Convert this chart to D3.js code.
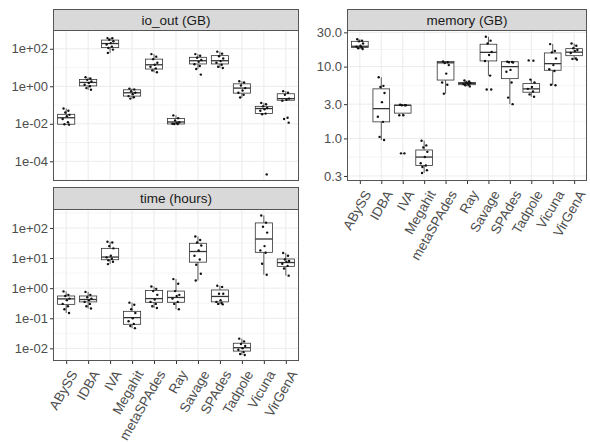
<!DOCTYPE html>
<html>
<head>
<meta charset="utf-8">
<script src="https://cdn.jsdelivr.net/npm/d3@7"></script>
<style>
  body { margin: 0; background: #fff; }
  svg { font-family: "Liberation Sans", Arial, sans-serif; }
  .grid-major { stroke: #ebebeb; stroke-width: 1; }
  .grid-minor { stroke: #f0f0f0; stroke-width: 0.7; }
  .axis text { fill: #4d4d4d; font-size: 13px; }
  .xaxis text { font-size: 13.5px; }
  .axis line { stroke: #333; }
  .axis path { display: none; }
  .strip { fill: #d9d9d9; stroke: #555; stroke-width: 1; }
  .stripText { fill: #1a1a1a; font-size: 13.5px; }
  .frame { fill: none; stroke: #555; stroke-width: 1; }
  .box { fill: #fff; stroke: #333; stroke-width: 0.8; }
  .dot { fill: #111; }
</style>
</head>
<body>
<script>
(function(){

    //assemblers (x categories)
    var algos = ["ABySS", "IDBA", "IVA", "Megahit", "metaSPAdes", "Ray", "Savage", "SPAdes", "Tadpole", "Vicuna", "VirGenA"];

    //box stats per assembler: [lower whisker, q1, median, q3, upper whisker]
    var ioStats = [
        [0.009, 0.0095, 0.021, 0.032, 0.065],
        [0.65, 1.05, 1.6, 2.3, 3.0],
        [60, 115, 190, 290, 370],
        [0.22, 0.3, 0.45, 0.65, 0.75],
        [5.6, 8.3, 14, 28, 52],
        [0.0098, 0.0098, 0.0125, 0.019, 0.028],
        [8.3, 15.5, 23, 35, 52],
        [9.5, 15.5, 23, 43, 70],
        [0.25, 0.43, 0.8, 1.35, 1.85],
        [0.032, 0.035, 0.065, 0.085, 0.13],
        [0.17, 0.18, 0.22, 0.4, 0.55]
    ];
    var ioPoints = [
        [0.065, 0.05, 0.04, 0.03, 0.025, 0.018, 0.012, 0.0095, 0.009],
        [3.0, 2.6, 2.2, 1.8, 1.5, 1.2, 1.0, 0.8, 0.65],
        [370, 360, 300, 250, 200, 170, 130, 110, 90, 60],
        [0.75, 0.68, 0.55, 0.45, 0.38, 0.3, 0.26, 0.22],
        [52, 38, 28, 18, 14, 11, 9, 7, 5.6],
        [0.028, 0.02, 0.015, 0.012, 0.011, 0.01, 0.0098, 0.0098],
        [52, 42, 33, 25, 20, 15, 12, 8.3, 4.2],
        [70, 55, 40, 30, 22, 18, 14, 11, 9.5],
        [1.85, 1.6, 1.1, 0.8, 0.6, 0.45, 0.35, 0.25],
        [0.13, 0.11, 0.085, 0.07, 0.06, 0.05, 0.035, 0.032, 0.00002],
        [0.55, 0.45, 0.35, 0.22, 0.19, 0.17, 0.021, 0.018, 0.0115]
    ];

    var timeStats = [
        [0.15, 0.29, 0.44, 0.55, 0.78],
        [0.21, 0.35, 0.42, 0.55, 0.75],
        [6.3, 8.8, 10.8, 21, 35],
        [0.047, 0.063, 0.105, 0.17, 0.33],
        [0.22, 0.34, 0.45, 0.83, 1.13],
        [0.2, 0.34, 0.49, 0.8, 2.0],
        [1.8, 7.3, 16.5, 31, 52],
        [0.29, 0.35, 0.53, 0.87, 1.2],
        [0.006, 0.0081, 0.0105, 0.0148, 0.021],
        [2.8, 15.5, 43, 147, 260],
        [2.6, 5.3, 7.1, 9.3, 14.7]
    ];
    var timePoints = [
        [0.78, 0.6, 0.55, 0.45, 0.4, 0.3, 0.25, 0.2, 0.15],
        [0.75, 0.6, 0.5, 0.45, 0.4, 0.35, 0.3, 0.25, 0.21],
        [35, 33, 25, 21, 12, 10.5, 9.5, 8.5, 7.5, 6.3],
        [0.33, 0.28, 0.2, 0.15, 0.1, 0.08, 0.065, 0.055, 0.047],
        [1.13, 0.95, 0.8, 0.6, 0.42, 0.35, 0.3, 0.25, 0.22],
        [2.0, 1.4, 0.8, 0.6, 0.55, 0.45, 0.35, 0.3, 0.2],
        [52, 40, 33, 26, 18, 12, 9, 6, 3, 1.8],
        [1.2, 1.1, 0.65, 0.65, 0.4, 0.35, 0.32, 0.3, 0.29],
        [0.021, 0.017, 0.014, 0.012, 0.01, 0.009, 0.0075, 0.0065, 0.006],
        [260, 150, 110, 70, 25, 18, 15, 6.5, 2.8],
        [14.7, 12, 9, 8, 7.5, 6.5, 5.5, 4.5, 2.6]
    ];

    var memStats = [
        [17.6, 18.5, 19.2, 22.5, 24],
        [0.95, 1.7, 2.6, 4.9, 7.1],
        [2.1, 2.25, 2.9, 2.9, 2.95],
        [0.33, 0.42, 0.55, 0.69, 0.93],
        [4.2, 6.5, 11.3, 11.8, 11.8],
        [5.3, 5.6, 5.85, 6.0, 6.4],
        [7.5, 12, 15.8, 20.5, 26],
        [3.0, 6.8, 10, 11.7, 11.7],
        [3.8, 4.4, 4.9, 5.8, 6.6],
        [5.5, 8.9, 11, 15.5, 20.6],
        [12.5, 14.2, 15.9, 17.8, 21]
    ];
    var memPoints = [
        [24, 23, 22.5, 21, 19.5, 19, 18.5, 18, 17.6],
        [7.1, 5.4, 5.2, 4.3, 3.2, 2.0, 1.7, 1.05, 0.95],
        [2.95, 2.9, 2.9, 2.9, 2.1, 2.1, 0.62, 0.62],
        [0.93, 0.8, 0.75, 0.65, 0.55, 0.45, 0.42, 0.4, 0.36, 0.33],
        [11.8, 11.5, 11.2, 10.5, 8, 6, 5.6, 4.2],
        [6.4, 6.2, 6.0, 5.9, 5.8, 5.7, 5.6, 5.5, 5.3],
        [26, 23, 21, 16, 14.5, 12, 7.5, 4.8, 4.8],
        [11.7, 11.6, 11.5, 11.4, 9, 8.5, 6, 3.7, 3.0],
        [12.2, 12.1, 6.6, 6, 5.2, 4.9, 4.5, 4.1, 3.8],
        [20.6, 16.5, 15.8, 13, 10.5, 9.2, 8.7, 5.6, 5.5],
        [21, 19.5, 18, 17, 16.5, 15.5, 13, 12.8, 12.5]
    ];

    //tick values
    var ioTicks = [1e-4, 1e-2, 1, 1e2];
    var ioMinor = [1e-5, 1e-3, 1e-1, 1e1, 1e3];
    var timeTicks = [1e-2, 1e-1, 1, 1e1, 1e2];
    var timeMinor = [Math.pow(10, -2.5), Math.pow(10, -1.5), Math.pow(10, -0.5), Math.pow(10, 0.5), Math.pow(10, 1.5), Math.pow(10, 2.5)];
    var memTicks = [0.3, 1, 3, 10, 30];
    var memMinor = [Math.pow(10, -0.261), Math.pow(10, 0.239), Math.pow(10, 0.739), Math.pow(10, 1.239)];

    //horizontal jitter pattern (fraction of category step)
    var jitter = [-0.12, 0.1, -0.04, 0.15, 0.03, -0.16, 0.08, -0.08, 0.13, -0.1];

    var width = 590, height = 442;

    var svg = d3.select("body")
        .append("svg")
        .attr("width", width)
        .attr("height", height);

    function expFormat(v){
        var e = Math.round(Math.log10(v));
        var s = Math.abs(e) < 10 ? "0" + Math.abs(e) : "" + Math.abs(e);
        return "1e" + (e < 0 ? "-" : "+") + s;
    }

    function drawPanel(p){
        var g = svg.append("g").attr("transform", "translate(" + p.x + "," + p.y + ")");

        //strip on top
        g.append("rect")
            .attr("class", "strip")
            .attr("x", 0.5).attr("y", -p.stripH + 0.5)
            .attr("width", p.w - 1).attr("height", p.stripH);
        g.append("text")
            .attr("class", "stripText")
            .attr("x", p.w / 2)
            .attr("y", -p.stripH / 2 + 5)
            .attr("text-anchor", "middle")
            .text(p.title);

        var x = d3.scalePoint()
            .domain(algos)
            .range([0, p.w])
            .padding(0.6);
        var step = x.step();

        var y = d3.scaleLog()
            .domain(p.domain)
            .range([p.h, 0]);

        //grid lines
        g.selectAll(".grid-minor")
            .data(p.minor.filter(function(d){ return y(d) > 0 && y(d) < p.h; }))
            .enter().append("line")
            .attr("class", "grid-minor")
            .attr("x1", 0).attr("x2", p.w)
            .attr("y1", function(d){ return y(d); })
            .attr("y2", function(d){ return y(d); });
        g.selectAll(".grid-major.h")
            .data(p.ticks)
            .enter().append("line")
            .attr("class", "grid-major h")
            .attr("x1", 0).attr("x2", p.w)
            .attr("y1", function(d){ return y(d); })
            .attr("y2", function(d){ return y(d); });
        g.selectAll(".grid-major.v")
            .data(algos)
            .enter().append("line")
            .attr("class", "grid-major v")
            .attr("y1", 0).attr("y2", p.h)
            .attr("x1", function(d){ return x(d); })
            .attr("x2", function(d){ return x(d); });

        //boxes
        var bw = step * 0.78;
        var boxes = g.selectAll(".bx")
            .data(p.stats)
            .enter().append("g")
            .attr("class", "bx")
            .attr("transform", function(d, i){ return "translate(" + x(algos[i]) + ",0)"; });
        boxes.append("line")
            .attr("class", "box")
            .attr("x1", 0).attr("x2", 0)
            .attr("y1", function(d){ return y(d[4]); })
            .attr("y2", function(d){ return y(d[3]); });
        boxes.append("line")
            .attr("class", "box")
            .attr("x1", 0).attr("x2", 0)
            .attr("y1", function(d){ return y(d[1]); })
            .attr("y2", function(d){ return y(d[0]); });
        boxes.append("rect")
            .attr("class", "box")
            .attr("x", -bw / 2)
            .attr("width", bw)
            .attr("y", function(d){ return y(d[3]); })
            .attr("height", function(d){ return Math.max(0.5, y(d[1]) - y(d[3])); });
        boxes.append("line")
            .attr("class", "box")
            .style("stroke-width", 1.3)
            .attr("x1", -bw / 2).attr("x2", bw / 2)
            .attr("y1", function(d){ return y(d[2]); })
            .attr("y2", function(d){ return y(d[2]); });

        //jittered points
        p.points.forEach(function(vals, i){
            g.selectAll(".dot" + i)
                .data(vals)
                .enter().append("circle")
                .attr("class", "dot")
                .attr("r", 1.2)
                .attr("cx", function(d, j){ return x(algos[i]) + jitter[j % jitter.length] * step; })
                .attr("cy", function(d){ return y(d); });
        });

        //frame
        g.append("rect")
            .attr("class", "frame")
            .attr("x", 0.5).attr("y", 0.5)
            .attr("width", p.w - 1).attr("height", p.h - 1);

        //y axis
        g.append("g")
            .attr("class", "axis")
            .call(d3.axisLeft(y).tickValues(p.ticks).tickFormat(p.format).tickSize(3).tickPadding(2));

        //x axis
        if (p.xAxis){
            var xa = g.append("g")
                .attr("class", "axis xaxis")
                .attr("transform", "translate(0," + p.h + ")")
                .call(d3.axisBottom(x).tickSize(3).tickPadding(2));
            xa.selectAll("text")
                .attr("text-anchor", "end")
                .attr("dy", "0.35em")
                .attr("transform", "translate(3,8) rotate(-60)");
        }
    }

    drawPanel({
        title: "io_out (GB)", x: 53, y: 30, w: 246, h: 151, stripH: 21,
        domain: [Math.pow(10, -5.05), Math.pow(10, 3.0)],
        ticks: ioTicks, minor: ioMinor, format: expFormat,
        stats: ioStats, points: ioPoints, xAxis: false
    });

    drawPanel({
        title: "time (hours)", x: 53, y: 209, w: 246, h: 152, stripH: 22,
        domain: [Math.pow(10, -2.42), Math.pow(10, 2.63)],
        ticks: timeTicks, minor: timeMinor, format: expFormat,
        stats: timeStats, points: timePoints, xAxis: true
    });

    drawPanel({
        title: "memory (GB)", x: 347, y: 30, w: 240, h: 151, stripH: 21,
        domain: [Math.pow(10, -0.593), Math.pow(10, 1.51)],
        ticks: memTicks, minor: memMinor, format: d3.format(".1f"),
        stats: memStats, points: memPoints, xAxis: true
    });

})();
</script>
</body>
</html>
